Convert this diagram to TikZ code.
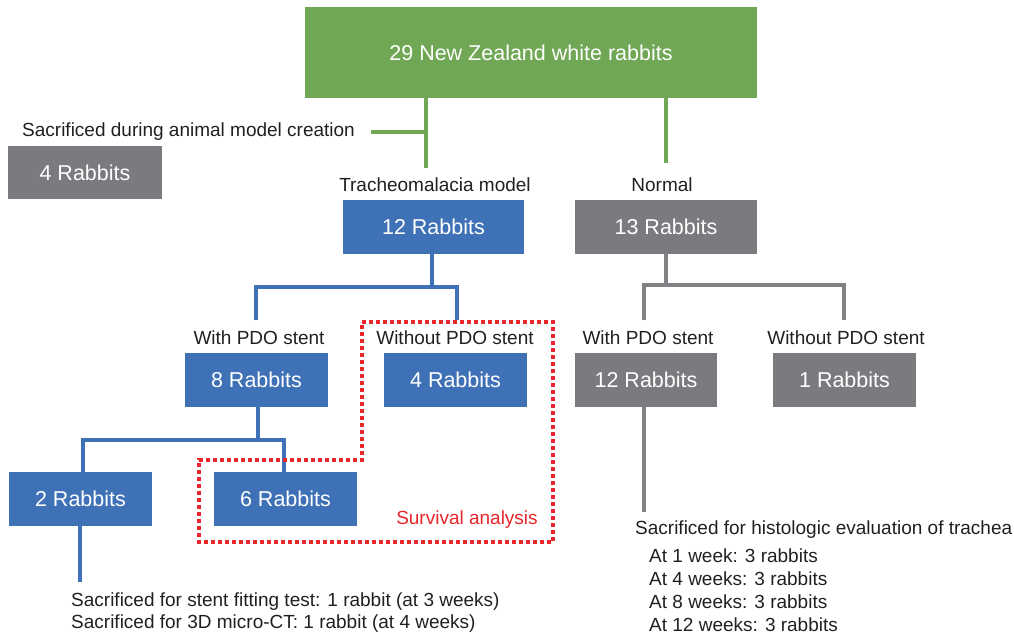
\documentclass[tikz,border=0pt]{standalone}
\usepackage{fontspec}
\setmainfont{Liberation Sans}
\definecolor{cgreen}{HTML}{70A754}
\definecolor{cblue}{HTML}{3F71B7}
\definecolor{cgray}{HTML}{7A7B7F}
\definecolor{cline}{HTML}{808285}
\definecolor{cred}{HTML}{E8252B}
\definecolor{ctext}{HTML}{231F20}
\begin{document}
\begin{tikzpicture}[x=1pt,y=-1pt,
  box/.style={rectangle,inner sep=0pt,text=white,font=\fontsize{21.5}{24}\selectfont},
  lbl/.style={inner sep=0pt,text=ctext,font=\fontsize{19}{22}\selectfont},
  gconn/.style={draw=cgreen,line width=3.5pt},
  bconn/.style={draw=cblue,line width=3.5pt},
  yconn/.style={draw=cline,line width=3.5pt},
  survbox/.style={draw=cred,line width=3.8pt,dash pattern=on 3.6pt off 3.4pt}]
\useasboundingbox (0,0) rectangle (1014,636);
% boxes
\node[box,fill=cgreen,minimum width=452pt,minimum height=91pt] (top) at (531,52.5) {29 New Zealand white rabbits};
\node[box,fill=cgray,minimum width=154pt,minimum height=53pt] (r4) at (85,172.5) {4 Rabbits};
\node[box,fill=cblue,minimum width=181pt,minimum height=54pt] (r12a) at (433.5,227) {12 Rabbits};
\node[box,fill=cgray,minimum width=182pt,minimum height=54pt] (r13) at (666,227) {13 Rabbits};
\node[box,fill=cblue,minimum width=143pt,minimum height=54pt] (r8) at (256.5,380) {8 Rabbits};
\node[box,fill=cblue,minimum width=143pt,minimum height=54pt] (r4b) at (455.5,380) {4 Rabbits};
\node[box,fill=cgray,minimum width=142pt,minimum height=54pt] (r12b) at (646,380) {12 Rabbits};
\node[box,fill=cgray,minimum width=143pt,minimum height=54pt] (r1) at (844.5,380) {1 Rabbits};
\node[box,fill=cblue,minimum width=143pt,minimum height=54pt] (r2) at (80.5,499) {2 Rabbits};
\node[box,fill=cblue,minimum width=143pt,minimum height=54pt] (r6) at (285.5,499) {6 Rabbits};
% labels
\node[lbl,anchor=west] (sacr) at (22,132) {Sacrificed during animal model creation};
\node[lbl] (tm) at (435,185) {Tracheomalacia model};
\node[lbl] (normal) at (662,185) {Normal};
\node[lbl] (with1) at (259,338) {With PDO stent};
\node[lbl] (without1) at (455,338) {Without PDO stent};
\node[lbl] (with2) at (648,338) {With PDO stent};
\node[lbl] (without2) at (846,338) {Without PDO stent};
\node[lbl,text=cred] (surv) at (467,520) {Survival analysis};
\node[lbl,anchor=west,align=left,font=\fontsize{19}{21.5}\selectfont] (fit) at (71,612.5) {Sacrificed for stent fitting test: 1 rabbit (at 3 weeks)\\Sacrificed for 3D micro-CT: 1 rabbit (at 4 weeks)};
\node[lbl,anchor=west] (histo) at (635,530) {Sacrificed for histologic evaluation of trachea};
\node[lbl,anchor=north west,align=left,font=\fontsize{19}{22.7}\selectfont] (weeks) at (649,549) {At 1 week: 3 rabbits\\At 4 weeks: 3 rabbits\\At 8 weeks: 3 rabbits\\At 12 weeks: 3 rabbits};
% coordinates
\coordinate (gA) at (426,168);
\coordinate (gS) at (371,132);
\coordinate (gN) at (666,163);
\coordinate (bA) at (432,287);
\coordinate (bL) at (256,320);
\coordinate (bR) at (457,320);
\coordinate (bB) at (258,440);
\coordinate (bBL) at (83,440);
\coordinate (bBR) at (284,440);
\coordinate (b2) at (80,582);
\coordinate (yA) at (666,285);
\coordinate (yL) at (644,320);
\coordinate (yR) at (844,320);
\coordinate (y12) at (644,512);
% green connectors
\draw[gconn] (top.south -| gA) -- (gA);
\draw[gconn] (gS) -- (gS -| gA);
\draw[gconn] (top.south -| gN) -- (gN);
% blue connectors
\draw[bconn] (r12a.south -| bA) -- (bA);
\draw[bconn] (bL) |- (bA) -| (bR);
\draw[bconn] (r8.south -| bB) -- (bB);
\draw[bconn] (r2.north -| bBL) |- (bB) -| (r6.north -| bBR);
\draw[bconn] (r2.south -| b2) -- (b2);
% gray connectors
\draw[yconn] (r13.south -| yA) -- (yA);
\draw[yconn] (yL) |- (yA) -| (yR);
\draw[yconn] (r12b.south -| y12) -- (y12);
% survival box
\draw[survbox] (362,322) -- (553,322) -- (553,542) -- (199,542) -- (199,460) -- (362,460) -- cycle;
\end{tikzpicture}
\end{document}
